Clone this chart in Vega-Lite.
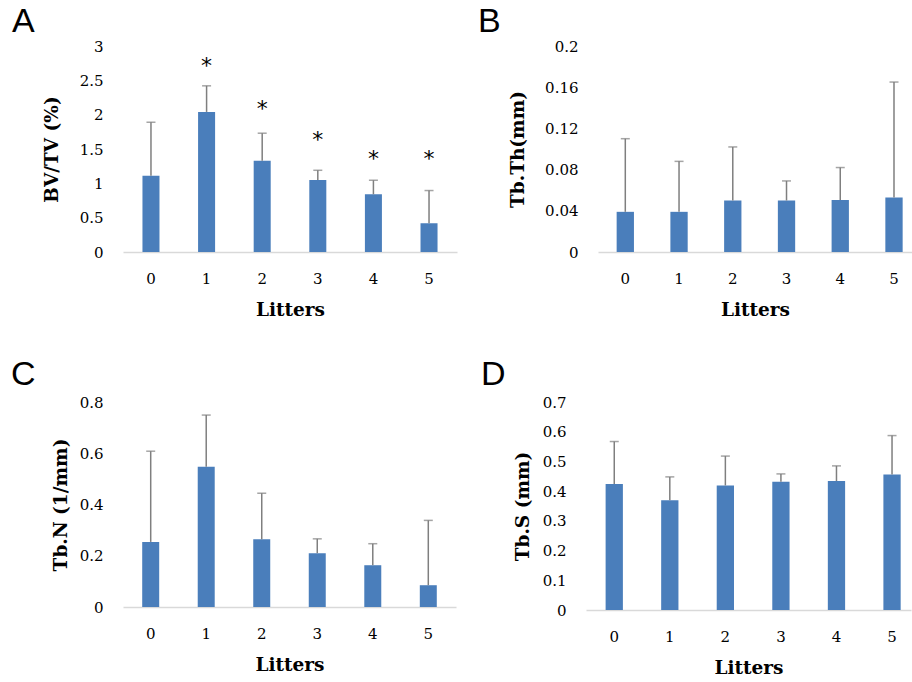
{
  "$schema": "https://vega.github.io/schema/vega-lite/v6.json",
  "padding": {"left": 11, "top": 5, "right": 0, "bottom": 0},
  "background": "white",
  "config": {
    "view": {"stroke": null},
    "axis": {"labelFont": "DejaVu Serif", "labelFontSize": 15, "labelColor": "#000000", "titleFont": "DejaVu Serif", "titleFontSize": 18.5, "titleFontWeight": "bold", "titleColor": "#000000", "ticks": false, "tickSize": 0, "grid": false, "labelOverlap": false},
    "axisX": {"domainColor": "#d9d9d9", "domainWidth": 1.5, "labelAngle": 0, "labelPadding": 19, "titlePadding": 14},
    "axisY": {"domain": false, "labelPadding": 20, "minExtent": 45, "maxExtent": 45, "format": "~g"},
    "title": {"anchor": "start", "frame": "group", "font": "Liberation Sans", "fontSize": 34, "fontWeight": "normal", "color": "#000000", "baseline": "alphabetic", "offset": 0}
  },
  "vconcat": [
    {
      "hconcat": [
        {
          "title": {"text": "A", "dx": -111, "offset": 0},
          "width": 334, "height": 206,
          "data": {"values": [
            {"litter": "0", "mean": 1.11, "upper": 1.89, "star": null},
            {"litter": "1", "mean": 2.04, "upper": 2.42, "star": 2.78},
            {"litter": "2", "mean": 1.33, "upper": 1.73, "star": 2.15},
            {"litter": "3", "mean": 1.05, "upper": 1.19, "star": 1.71},
            {"litter": "4", "mean": 0.84, "upper": 1.045, "star": 1.42},
            {"litter": "5", "mean": 0.42, "upper": 0.895, "star": 1.42}
          ]},
          "encoding": {"x": {"field": "litter", "type": "ordinal", "scale": {"paddingInner": 0.694, "paddingOuter": 0.35}, "axis": {"title": "Litters"}}},
          "layer": [
            {"mark": {"type": "bar", "color": "#4a7ebb"}, "encoding": {"y": {"field": "mean", "type": "quantitative", "scale": {"domain": [0, 3]}, "axis": {"title": "BV/TV (%)", "titlePadding": 17, "labelOverlap": false, "values": [0, 0.5, 1, 1.5, 2, 2.5, 3]}}}},
            {"mark": {"type": "rule", "color": "#7f7f7f", "strokeWidth": 1.5}, "encoding": {"y": {"field": "mean", "type": "quantitative", "axis": {"title": "BV/TV (%)", "titlePadding": 17, "labelOverlap": false, "values": [0, 0.5, 1, 1.5, 2, 2.5, 3]}}, "y2": {"field": "upper"}}},
            {"mark": {"type": "tick", "color": "#7f7f7f", "thickness": 1.5, "size": 9, "orient": "horizontal"}, "encoding": {"y": {"field": "upper", "type": "quantitative", "axis": {"title": "BV/TV (%)", "titlePadding": 17, "labelOverlap": false, "values": [0, 0.5, 1, 1.5, 2, 2.5, 3]}}}},
            {"transform": [{"filter": "datum.star != null"}], "mark": {"type": "text", "text": "*", "font": "DejaVu Sans", "fontSize": 22, "baseline": "alphabetic", "dy": 12, "color": "#000000"}, "encoding": {"y": {"field": "star", "type": "quantitative", "axis": {"title": "BV/TV (%)", "titlePadding": 17, "labelOverlap": false, "values": [0, 0.5, 1, 1.5, 2, 2.5, 3]}}}}
          ]
        },
        {
          "title": {"text": "B", "dx": -120, "offset": 0},
          "width": 314, "height": 206,
          "data": {"values": [
            {"litter": "0", "mean": 0.039, "upper": 0.110},
            {"litter": "1", "mean": 0.039, "upper": 0.088},
            {"litter": "2", "mean": 0.050, "upper": 0.102},
            {"litter": "3", "mean": 0.050, "upper": 0.069},
            {"litter": "4", "mean": 0.0505, "upper": 0.082},
            {"litter": "5", "mean": 0.053, "upper": 0.165}
          ]},
          "encoding": {"x": {"field": "litter", "type": "ordinal", "scale": {"paddingInner": 0.678, "paddingOuter": 0.2605, "align": 0.666}, "axis": {"title": "Litters"}}},
          "layer": [
            {"mark": {"type": "bar", "color": "#4a7ebb"}, "encoding": {"y": {"field": "mean", "type": "quantitative", "scale": {"domain": [0, 0.2]}, "axis": {"title": "Tb.Th(mm)", "titlePadding": 26, "labelOverlap": false, "values": [0, 0.04, 0.08, 0.12, 0.16, 0.2]}}}},
            {"mark": {"type": "rule", "color": "#7f7f7f", "strokeWidth": 1.5}, "encoding": {"y": {"field": "mean", "type": "quantitative", "axis": {"title": "Tb.Th(mm)", "titlePadding": 26, "labelOverlap": false, "values": [0, 0.04, 0.08, 0.12, 0.16, 0.2]}}, "y2": {"field": "upper"}}},
            {"mark": {"type": "tick", "color": "#7f7f7f", "thickness": 1.5, "size": 9, "orient": "horizontal"}, "encoding": {"y": {"field": "upper", "type": "quantitative", "axis": {"title": "Tb.Th(mm)", "titlePadding": 26, "labelOverlap": false, "values": [0, 0.04, 0.08, 0.12, 0.16, 0.2]}}}}
          ]
        }
      ],
      "spacing": 21
    },
    {
      "hconcat": [
        {
          "title": {"text": "C", "dx": -112, "offset": 3},
          "width": 333, "height": 205,
          "data": {"values": [
            {"litter": "0", "mean": 0.254, "upper": 0.608},
            {"litter": "1", "mean": 0.547, "upper": 0.749},
            {"litter": "2", "mean": 0.264, "upper": 0.444},
            {"litter": "3", "mean": 0.210, "upper": 0.266},
            {"litter": "4", "mean": 0.163, "upper": 0.247},
            {"litter": "5", "mean": 0.085, "upper": 0.338}
          ]},
          "encoding": {"x": {"field": "litter", "type": "ordinal", "scale": {"paddingInner": 0.694, "paddingOuter": 0.346}, "axis": {"title": "Litters"}}},
          "layer": [
            {"mark": {"type": "bar", "color": "#4a7ebb"}, "encoding": {"y": {"field": "mean", "type": "quantitative", "scale": {"domain": [0, 0.8]}, "axis": {"title": "Tb.N (1/mm)", "titlePadding": 8, "labelOverlap": false, "values": [0, 0.2, 0.4, 0.6, 0.8]}}}},
            {"mark": {"type": "rule", "color": "#7f7f7f", "strokeWidth": 1.5}, "encoding": {"y": {"field": "mean", "type": "quantitative", "axis": {"title": "Tb.N (1/mm)", "titlePadding": 8, "labelOverlap": false, "values": [0, 0.2, 0.4, 0.6, 0.8]}}, "y2": {"field": "upper"}}},
            {"mark": {"type": "tick", "color": "#7f7f7f", "thickness": 1.5, "size": 9, "orient": "horizontal"}, "encoding": {"y": {"field": "upper", "type": "quantitative", "axis": {"title": "Tb.N (1/mm)", "titlePadding": 8, "labelOverlap": false, "values": [0, 0.2, 0.4, 0.6, 0.8]}}}}
          ]
        },
        {
          "title": {"text": "D", "dx": -105, "offset": 3},
          "width": 325, "height": 208,
          "data": {"values": [
            {"litter": "0", "mean": 0.424, "upper": 0.567},
            {"litter": "1", "mean": 0.369, "upper": 0.448},
            {"litter": "2", "mean": 0.419, "upper": 0.518},
            {"litter": "3", "mean": 0.432, "upper": 0.458},
            {"litter": "4", "mean": 0.434, "upper": 0.485},
            {"litter": "5", "mean": 0.456, "upper": 0.587}
          ]},
          "encoding": {"x": {"field": "litter", "type": "ordinal", "scale": {"paddingInner": 0.689, "paddingOuter": 0.2695, "align": 0.655}, "axis": {"title": "Litters"}}},
          "layer": [
            {"mark": {"type": "bar", "color": "#4a7ebb"}, "encoding": {"y": {"field": "mean", "type": "quantitative", "scale": {"domain": [0, 0.7]}, "axis": {"title": "Tb.S (mm)", "titlePadding": 8.5, "labelOverlap": false, "values": [0, 0.1, 0.2, 0.3, 0.4, 0.5, 0.6, 0.7]}}}},
            {"mark": {"type": "rule", "color": "#7f7f7f", "strokeWidth": 1.5}, "encoding": {"y": {"field": "mean", "type": "quantitative", "axis": {"title": "Tb.S (mm)", "titlePadding": 8.5, "labelOverlap": false, "values": [0, 0.1, 0.2, 0.3, 0.4, 0.5, 0.6, 0.7]}}, "y2": {"field": "upper"}}},
            {"mark": {"type": "tick", "color": "#7f7f7f", "thickness": 1.5, "size": 9, "orient": "horizontal"}, "encoding": {"y": {"field": "upper", "type": "quantitative", "axis": {"title": "Tb.S (mm)", "titlePadding": 8.5, "labelOverlap": false, "values": [0, 0.1, 0.2, 0.3, 0.4, 0.5, 0.6, 0.7]}}}}
          ]
        }
      ],
      "spacing": 25
    }
  ],
  "spacing": 39
}
